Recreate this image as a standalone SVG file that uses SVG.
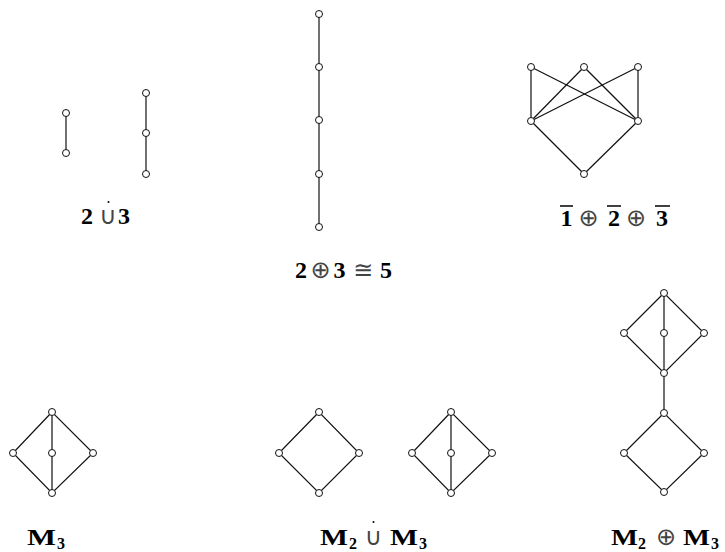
<svg xmlns="http://www.w3.org/2000/svg" width="725" height="552" viewBox="0 0 725 552">
<style>
.e{stroke:#111;stroke-width:1.2;fill:none}
.n{fill:#fff;stroke:#111;stroke-width:1}
.b{font-family:"Liberation Serif",serif;font-weight:bold;font-size:24px;fill:#000;text-anchor:middle}
.m{font-family:"Liberation Serif",serif;font-weight:bold;font-size:23px;fill:#000}
.s{font-family:"Liberation Serif",serif;font-weight:bold;font-size:16px;fill:#000;text-anchor:middle}
.o{font-family:"DejaVu Sans",sans-serif;font-size:24px;fill:#444;text-anchor:middle}
.bar{stroke:#000;stroke-width:1.5}
</style>
<rect width="725" height="552" fill="#fff"/>
<g id="connectors">
  <line class="e" x1="66" y1="113" x2="66" y2="153"/>
  <line class="e" x1="146" y1="93" x2="146" y2="174"/>
  <line class="e" x1="319" y1="14" x2="319" y2="227"/>
  <line class="e" x1="531" y1="67" x2="531" y2="121"/>
  <line class="e" x1="531" y1="67" x2="638" y2="121"/>
  <line class="e" x1="584" y1="67" x2="531" y2="121"/>
  <line class="e" x1="584" y1="67" x2="638" y2="121"/>
  <line class="e" x1="638" y1="67" x2="531" y2="121"/>
  <line class="e" x1="638" y1="67" x2="638" y2="121"/>
  <line class="e" x1="531" y1="121" x2="584" y2="174"/>
  <line class="e" x1="638" y1="121" x2="584" y2="174"/>
  <path class="e" d="M52 412 L13 453 L52 493 L93 453 Z M52 412 L52 493"/>
  <path class="e" d="M319 412 L279 453 L319 493 L359 453 Z"/>
  <path class="e" d="M451 412 L412 453 L451 493 L492 453 Z M451 412 L451 493"/>
  <path class="e" d="M664 293 L624 333 L664 373 L704 333 Z M664 293 L664 413"/>
  <path class="e" d="M664 413 L624 453 L664 492 L704 453 Z"/>
</g>
<g id="two-cup-three">
  <circle class="n" cx="66" cy="113" r="3.5"/>
  <circle class="n" cx="66" cy="153" r="3.5"/>
  <circle class="n" cx="146" cy="93" r="3.5"/>
  <circle class="n" cx="146" cy="133" r="3.5"/>
  <circle class="n" cx="146" cy="174" r="3.5"/>
  <text class="b" x="87" y="224">2</text>
  <text class="o" x="108" y="224">∪</text>
  <circle cx="108.5" cy="202" r="1" fill="#000"/>
  <text class="b" x="124" y="224">3</text>
</g>
<g id="five-chain">
  <circle class="n" cx="319" cy="14" r="3.5"/>
  <circle class="n" cx="319" cy="67" r="3.5"/>
  <circle class="n" cx="319" cy="120" r="3.5"/>
  <circle class="n" cx="319" cy="174" r="3.5"/>
  <circle class="n" cx="319" cy="227" r="3.5"/>
  <text class="b" x="301" y="278">2</text>
  <text class="o" x="320.5" y="278">⊕</text>
  <text class="b" x="339.5" y="278">3</text>
  <text class="o" x="363" y="278">≅</text>
  <text class="b" x="386" y="278">5</text>
</g>
<g id="ordinal-sum">
  <circle class="n" cx="531" cy="67" r="3.5"/>
  <circle class="n" cx="584" cy="67" r="3.5"/>
  <circle class="n" cx="638" cy="67" r="3.5"/>
  <circle class="n" cx="531" cy="121" r="3.5"/>
  <circle class="n" cx="638" cy="121" r="3.5"/>
  <circle class="n" cx="584" cy="174" r="3.5"/>
  <text class="b" x="566.5" y="226">1</text>
  <line class="bar" x1="560" y1="206" x2="573" y2="206"/>
  <text class="o" x="588.5" y="226">⊕</text>
  <text class="b" x="614" y="226">2</text>
  <line class="bar" x1="607" y1="206" x2="621" y2="206"/>
  <text class="o" x="636" y="226">⊕</text>
  <text class="b" x="662" y="226">3</text>
  <line class="bar" x1="655" y1="206" x2="670" y2="206"/>
</g>
<g id="m3">
  <circle class="n" cx="52" cy="412" r="3.5"/>
  <circle class="n" cx="13" cy="453" r="3.5"/>
  <circle class="n" cx="52" cy="453" r="3.5"/>
  <circle class="n" cx="93" cy="453" r="3.5"/>
  <circle class="n" cx="52" cy="493" r="3.5"/>
  <text class="m" x="27" y="545" textLength="29" lengthAdjust="spacingAndGlyphs">M</text>
  <text class="s" x="61" y="549">3</text>
</g>
<g id="m2-cup-m3">
  <circle class="n" cx="319" cy="412" r="3.5"/>
  <circle class="n" cx="279" cy="453" r="3.5"/>
  <circle class="n" cx="359" cy="453" r="3.5"/>
  <circle class="n" cx="319" cy="493" r="3.5"/>
  <circle class="n" cx="451" cy="412" r="3.5"/>
  <circle class="n" cx="412" cy="453" r="3.5"/>
  <circle class="n" cx="451" cy="453" r="3.5"/>
  <circle class="n" cx="492" cy="453" r="3.5"/>
  <circle class="n" cx="451" cy="493" r="3.5"/>
  <text class="m" x="320" y="545" textLength="28" lengthAdjust="spacingAndGlyphs">M</text>
  <text class="s" x="353" y="549">2</text>
  <text class="o" x="373.5" y="545">∪</text>
  <circle cx="373.5" cy="522" r="1" fill="#000"/>
  <text class="m" x="390" y="545" textLength="28" lengthAdjust="spacingAndGlyphs">M</text>
  <text class="s" x="423" y="549">3</text>
</g>
<g id="m2-oplus-m3">
  <circle class="n" cx="664" cy="293" r="3.5"/>
  <circle class="n" cx="624" cy="333" r="3.5"/>
  <circle class="n" cx="664" cy="333" r="3.5"/>
  <circle class="n" cx="704" cy="333" r="3.5"/>
  <circle class="n" cx="664" cy="373" r="3.5"/>
  <circle class="n" cx="664" cy="413" r="3.5"/>
  <circle class="n" cx="624" cy="453" r="3.5"/>
  <circle class="n" cx="704" cy="453" r="3.5"/>
  <circle class="n" cx="664" cy="492" r="3.5"/>
  <text class="m" x="611" y="545" textLength="27" lengthAdjust="spacingAndGlyphs">M</text>
  <text class="s" x="642" y="549">2</text>
  <text class="o" x="666" y="545">⊕</text>
  <text class="m" x="683" y="545" textLength="27" lengthAdjust="spacingAndGlyphs">M</text>
  <text class="s" x="715" y="549">3</text>
</g>
</svg>
